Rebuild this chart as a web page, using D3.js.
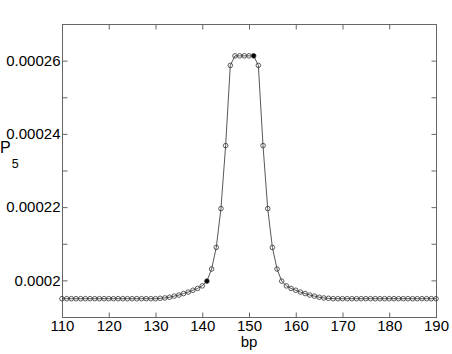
<!DOCTYPE html>
<html>
<head>
<meta charset="utf-8">
<title>P5 vs bp</title>
<style>
body { margin: 0; background: #fff; }
svg text { font-family: "Liberation Sans", Arial, Helvetica, sans-serif; fill: #000; }
.tick-lbl { font-size: 15px; }
</style>
</head>
<body>
<script src="https://cdn.jsdelivr.net/npm/d3@7"></script>
<script>
// position along the sequence (bp), one point per base
var bp = d3.range(110, 191);
// P5 values
var p5 = [
  0.000195, 0.000195, 0.000195, 0.000195, 0.000195, 0.000195, 0.000195, 0.000195, 0.000195, 0.000195, // 110-119
  0.000195, 0.000195, 0.000195, 0.000195, 0.000195, 0.000195, 0.000195, 0.000195, 0.000195, 0.000195, // 120-129
  0.000195, 0.0001951, 0.0001952, 0.0001954, 0.0001957, 0.000196, 0.0001964, 0.0001968, 0.0001973, 0.0001978, // 130-139
  0.0001985, 0.0001998, 0.0002031, 0.000209, 0.0002196, 0.0002368, 0.0002587, 0.0002613, 0.0002613, 0.0002613, // 140-149
  0.0002613, 0.0002613, 0.0002587, 0.0002368, 0.0002196, 0.000209, 0.0002031, 0.0001998, 0.0001985, 0.0001978, // 150-159
  0.0001973, 0.0001968, 0.0001964, 0.000196, 0.0001957, 0.0001954, 0.0001952, 0.0001951, 0.000195, 0.000195, // 160-169
  0.000195, 0.000195, 0.000195, 0.000195, 0.000195, 0.000195, 0.000195, 0.000195, 0.000195, 0.000195, // 170-179
  0.000195, 0.000195, 0.000195, 0.000195, 0.000195, 0.000195, 0.000195, 0.000195, 0.000195, 0.000195, // 180-189
  0.000195 // 190
];
// points drawn filled
var filledBp = [141, 151];

var xTicks = [110, 120, 130, 140, 150, 160, 170, 180, 190];
var yTicks = [0.0002, 0.00021, 0.00022, 0.00023, 0.00024, 0.00025, 0.00026];
var yLabels = [0.0002, 0.00022, 0.00024, 0.00026];

var W = 452, H = 354;
var mL = 62, mR = 436, mT = 24, mB = 317;

var svg = d3.select("body").append("svg")
  .attr("width", W)
  .attr("height", H);

var x = d3.scaleLinear().domain([110, 190]).range([mL, mR]);
var y = d3.scaleLinear().domain([0.00019, 0.00027]).range([mB, mT]);

var axisCol = "#666";
var tickLen = 5;

// frame
svg.append("rect")
  .attr("x", mL + 0.5).attr("y", mT + 0.5)
  .attr("width", mR - mL).attr("height", mB - mT)
  .attr("fill", "none").attr("stroke", axisCol).attr("stroke-width", 1);

// axes with inward ticks
function styleAxis(g) {
  g.select(".domain").remove();
  g.selectAll(".tick line").attr("stroke", axisCol);
}
var fmtY = function(d) { return yLabels.some(function(v) { return Math.abs(v - d) < 1e-9; }) ? String(+d.toFixed(5)) : ""; };

svg.append("g")
  .attr("transform", "translate(0," + (mB + 0.5) + ")")
  .call(d3.axisBottom(x).tickValues(xTicks).tickSizeInner(-tickLen).tickSizeOuter(0).tickPadding(3))
  .call(styleAxis)
  .call(function(g) { g.attr("font-size", null).attr("font-family", null); })
  .selectAll("text").attr("class", "tick-lbl");

svg.append("g")
  .attr("transform", "translate(0," + (mT + 0.5) + ")")
  .call(d3.axisTop(x).tickValues(xTicks).tickSizeInner(-tickLen).tickSizeOuter(0).tickFormat(""))
  .call(styleAxis);

svg.append("g")
  .attr("transform", "translate(" + (mL + 0.5) + ",0)")
  .call(d3.axisLeft(y).tickValues(yTicks).tickSizeInner(-tickLen).tickSizeOuter(0).tickPadding(2).tickFormat(fmtY))
  .call(styleAxis)
  .call(function(g) { g.attr("font-size", null).attr("font-family", null); })
  .selectAll("text").attr("class", "tick-lbl");

svg.append("g")
  .attr("transform", "translate(" + (mR + 0.5) + ",0)")
  .call(d3.axisRight(y).tickValues(yTicks).tickSizeInner(-tickLen).tickSizeOuter(0).tickFormat(""))
  .call(styleAxis);

// line
var pts = bp.map(function(b, i) { return [b, p5[i]]; });
svg.append("path")
  .datum(pts)
  .attr("fill", "none")
  .attr("stroke", "#444")
  .attr("stroke-width", 0.9)
  .attr("d", d3.line().x(function(d) { return x(d[0]); }).y(function(d) { return y(d[1]); }));

// markers
svg.selectAll("circle.pt")
  .data(pts)
  .enter().append("circle")
  .attr("class", "pt")
  .attr("cx", function(d) { return x(d[0]); })
  .attr("cy", function(d) { return y(d[1]); })
  .attr("r", 2.3)
  .attr("fill", function(d) { return filledBp.indexOf(d[0]) >= 0 ? "#000" : "#fff"; })
  .attr("fill-opacity", function(d) { return filledBp.indexOf(d[0]) >= 0 ? 1 : 0; })
  .attr("stroke", "#333")
  .attr("stroke-width", 0.8);

// axis titles
svg.append("text")
  .attr("x", (mL + mR) / 2)
  .attr("y", 347)
  .attr("text-anchor", "middle")
  .attr("font-size", 15)
  .text("bp");

var yt = svg.append("text")
  .attr("x", 0)
  .attr("y", 153)
  .attr("font-size", 16);
yt.append("tspan").text("P");
yt.append("tspan").attr("font-size", 12.5).attr("dx", 1).attr("dy", 15).text("5");
</script>
</body>
</html>
